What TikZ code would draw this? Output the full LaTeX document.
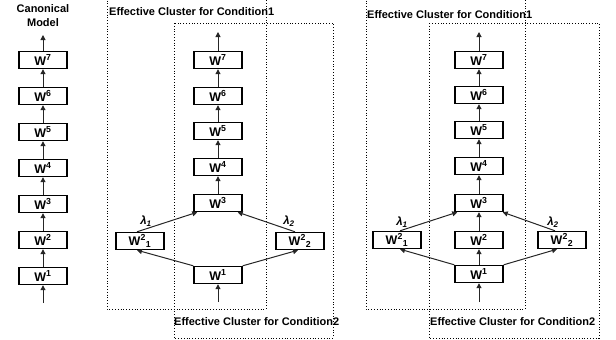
\documentclass[tikz,border=0pt]{standalone}
\usepackage{fontspec}
\setmainfont{Liberation Sans}
\usetikzlibrary{arrows.meta}
\begin{document}
\begin{tikzpicture}[x=1pt, y=-1pt,
    wbox/.style={draw, line width=1.4pt, minimum width=48pt, minimum height=17pt,
      inner sep=0pt, font=\bfseries\fontsize{12.5}{13}\selectfont},
    flow/.style={line width=1pt, black!85, -{Triangle[length=5pt, width=5pt]}},
    cluster/.style={draw, dotted, line width=0.8pt},
    tag/.style={font=\bfseries\fontsize{11}{12}\selectfont, inner sep=0pt, anchor=base west},
    lam/.style={font=\bfseries\itshape\fontsize{11.5}{12}\selectfont, inner sep=0pt}]
    \useasboundingbox (0, 0) rectangle (616, 340);
    % clusters
    \draw[cluster] (107, -5) rectangle (266, 309);
    \draw[cluster] (174, 23) rectangle (333, 338);
    \draw[cluster] (366, -5) rectangle (525, 309);
    \draw[cluster] (429, 23) rectangle (599, 338);
    \node[tag] at (109, 16) {Effective Cluster for Condition1};
    \node[tag] at (174, 325) {Effective Cluster for Condition2};
    \node[tag] at (367, 18) {Effective Cluster for Condition1};
    \node[tag] at (430, 325) {Effective Cluster for Condition2};
    % canonical model
    \node[font=\bfseries\fontsize{11}{14}\selectfont, align=center, inner sep=0pt] (title) at (43, 16) {Canonical\\Model};
    \foreach \k/\y in {1/276, 2/240, 3/204, 4/168, 5/132, 6/96, 7/60}
      \node[wbox] (C\k) at (43, \y) {W\textsuperscript{\k}};
    \coordinate (Cin) at (43, 303);
    \coordinate (Cout) at (43, 35);
    \draw[flow] (Cin) -- (C1);
    \foreach \j/\k in {1/2, 2/3, 3/4, 4/5, 5/6, 6/7}
      \draw[flow] (C\j) -- (C\k);
    \draw[flow] (C7) -- (Cout);
    % condition model
    \foreach \k/\y in {3/203, 4/167, 5/131, 6/96, 7/60}
      \node[wbox] (M\k) at (218, \y) {W\textsuperscript{\k}};
    \node[wbox] (M1) at (218, 275) {W\textsuperscript{1}};
    \node[wbox] (Ma) at (140, 241) {W\textsuperscript{2}\textsubscript{1}};
    \node[wbox] (Mb) at (300, 241) {W\textsuperscript{2}\textsubscript{2}};
    \coordinate (Min) at (218, 302);
    \coordinate (Mout) at (218, 32);
    \draw[flow] (Min) -- (M1);
    \foreach \j/\k in {3/4, 4/5, 5/6, 6/7}
      \draw[flow] (M\j) -- (M\k);
    \draw[flow] (M7) -- (Mout);
    \draw[flow] (M1.north west) -- ([xshift=-3pt]Ma.south);
    \draw[flow] (M1.north east) -- ([xshift=-2pt]Mb.south);
    \draw[flow] ([xshift=-3pt]Ma.north) -- ([xshift=4pt]M3.south west);
    \draw[flow] ([xshift=-5pt]Mb.north) -- ([xshift=-5pt]M3.south east);
    \node[lam] at (146, 221) {λ\textsubscript{1}};
    \node[lam] at (289, 221) {λ\textsubscript{2}};
    % shared model
    \foreach \k/\y in {1/274, 2/240, 3/203, 4/166, 5/130, 6/95, 7/60}
      \node[wbox] (R\k) at (479, \y) {W\textsuperscript{\k}};
    \node[wbox] (Ra) at (397, 240) {W\textsuperscript{2}\textsubscript{1}};
    \node[wbox] (Rb) at (562, 240) {W\textsuperscript{2}\textsubscript{2}};
    \coordinate (Rin) at (479, 302);
    \coordinate (Rout) at (479, 32);
    \draw[flow] (Rin) -- (R1);
    \foreach \j/\k in {1/2, 2/3, 3/4, 4/5, 5/6, 6/7}
      \draw[flow] (R\j) -- (R\k);
    \draw[flow] (R7) -- (Rout);
    \draw[flow] (R1.north west) -- ([xshift=3pt]Ra.south);
    \draw[flow] (R1.north east) -- ([xshift=-5pt]Rb.south);
    \draw[flow] ([xshift=3pt]Ra.north) -- ([xshift=3pt]R3.south west);
    \draw[flow] ([xshift=-7pt]Rb.north) -- ([xshift=-1pt]R3.south east);
    \node[lam] at (402, 222) {λ\textsubscript{1}};
    \node[lam] at (553, 222) {λ\textsubscript{2}};
\end{tikzpicture}
\end{document}
